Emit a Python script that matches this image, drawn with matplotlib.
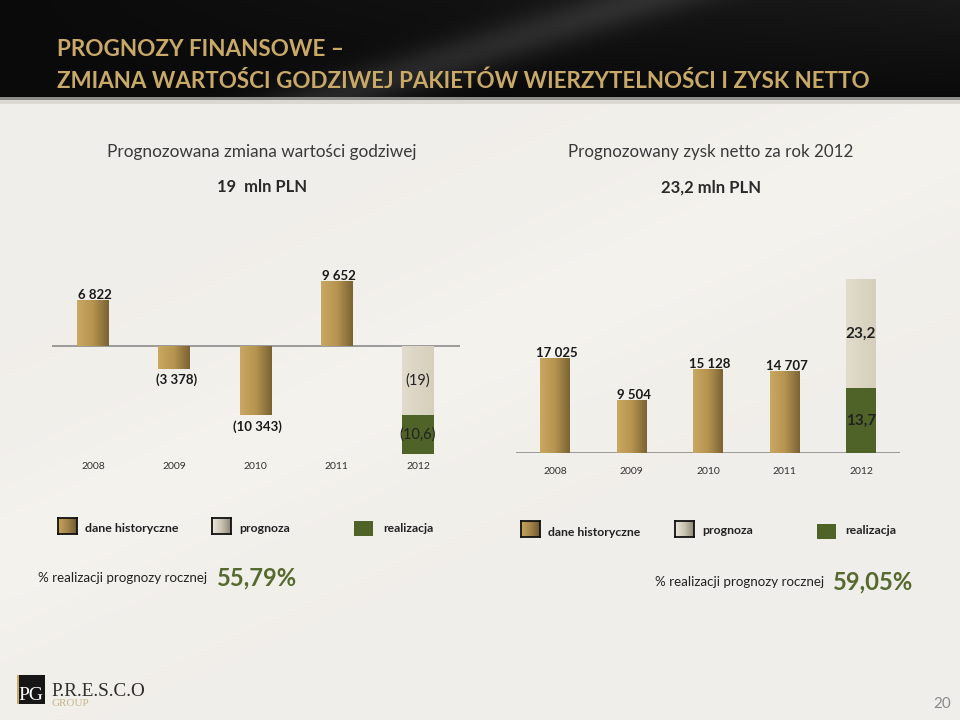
import numpy as np
import matplotlib
matplotlib.use('Agg')
import matplotlib.pyplot as plt
from matplotlib.colors import LinearSegmentedColormap
from matplotlib.patches import Rectangle

plt.rcParams['font.family'] = ['Lato', 'DejaVu Sans']

# dane
lata = ['2008', '2009', '2010', '2011', '2012']
zmiana_hist = [6822, -3378, -10343, 9652]      # tys. PLN
zmiana_prognoza = -19.0                        # mln PLN
zmiana_realizacja = -10.6
zysk_hist = [17025, 9504, 15128, 14707]        # tys. PLN
zysk_prognoza = 23.2                           # mln PLN
zysk_realizacja = 13.7
legenda = ['dane historyczne', 'prognoza', 'realizacja']


def tys(v):
    s = f"{abs(v):,}".replace(',', ' ')
    return f"({s})" if v < 0 else s


def mln(v):
    s = f"{abs(v):.1f}".replace('.', ',')
    if s.endswith(',0'):
        s = s[:-2]
    return f"({s})" if v < 0 else s


def proc(a, b):
    return f"{a / b * 100:.2f}%".replace('.', ',')


W, H = 960, 720
fig = plt.figure(figsize=(9.6, 7.2), dpi=100)
fig.patch.set_facecolor('#F1EFEA')
renderer = fig.canvas.get_renderer()


def ax_px(x0, y0, x1, y1):
    return fig.add_axes([x0 / W, 1 - y1 / H, (x1 - x0) / W, (y1 - y0) / H])


def tekst(x, y, s, width=None, size=10, **kw):
    kw.setdefault('va', 'center_baseline')
    t = fig.text(x / W, 1 - y / H, s, fontsize=size, **kw)
    if width:
        bb = t.get_window_extent(renderer)
        t.set_fontsize(size * width / bb.width)
    return t


# tlo slajdu
bg = ax_px(0, 0, W, H)
yy, xx = np.mgrid[0:H, 0:W].astype(float)
img = np.ones((H, W, 3)) * np.array([0.945, 0.937, 0.918])
band = np.exp(-((yy + 0.45 * xx - 560) / 90) ** 2)
img += 0.015 * band[..., None]
head = yy < 97
hv = 0.04 + 0.11 * np.exp(-((xx + 3.2 * yy - 640) / 70) ** 2) + 0.06 * (xx / W) * (1 - yy / 97)
img[head] = np.repeat(hv[head][:, None], 3, axis=1)
img[(yy >= 97) & (yy < 100)] = [0.55, 0.55, 0.53]
img[(yy >= 100) & (yy < 104)] = [0.86, 0.85, 0.82]
bg.imshow(np.clip(img, 0, 1), aspect='auto', extent=[0, W, H, 0])
bg.axis('off')

zloto = '#C8A968'
tekst(57, 47, 'PROGNOZY FINANSOWE –', width=288, size=18, color=zloto, weight='bold')
tekst(57, 79, 'ZMIANA WARTOŚCI GODZIWEJ PAKIETÓW WIERZYTELNOŚCI I ZYSK NETTO',
      width=813, size=18, color=zloto, weight='bold')

# podtytuly
tekst(262, 151, 'Prognozowana zmiana wartości godziwej', width=309, size=12,
      color='#3A3A3A', ha='center')
tekst(262, 185, f'{abs(zmiana_prognoza):.0f}  mln PLN', width=90, size=12,
      color='#2A2A2A', ha='center', weight='bold')
tekst(711, 151, 'Prognozowany zysk netto za rok 2012', width=282, size=12,
      color='#3A3A3A', ha='center')
tekst(711, 186, f'{mln(zysk_prognoza)} mln PLN', width=100, size=12,
      color='#2A2A2A', ha='center', weight='bold')

gold_cm = LinearSegmentedColormap.from_list('g', ['#C9A862', '#B69450', '#7A6334'])
beige_cm = LinearSegmentedColormap.from_list('b', ['#E1DCCC', '#D5CFBB'])
green = '#4F6228'
szer = 0.39


def gradient(ax, bars, cmap):
    grad = np.linspace(0, 1, 64).reshape(1, -1)
    for b in bars:
        x0, y0, w, h = b.get_x(), b.get_y(), b.get_width(), b.get_height()
        im = ax.imshow(grad, extent=[x0, x0 + w, y0, y0 + h], aspect='auto',
                       cmap=cmap, zorder=3)
        im.set_clip_path(b)


def os_styl(ax, pad):
    for s in ax.spines.values():
        s.set_visible(False)
    ax.set_facecolor('none')
    ax.set_yticks([])
    ax.set_xticks(range(len(lata)))
    ax.set_xticklabels(lata)
    ax.tick_params(axis='x', length=0, labelsize=7.5, labelcolor='#333333', pad=pad)
    ax.axhline(0, color='#8C8C8C', lw=1.2, zorder=2)


# wykres lewy - zmiana wartosci godziwej
axL = ax_px(52, 260, 460, 456)
x = np.arange(len(lata))
bL = axL.bar(x[:4], zmiana_hist, width=szer, color='none', zorder=3)
gradient(axL, bL, gold_cm)
os_styl(axL, 4.5)
kL = 6.7 / 1000
for xi, v in zip(x[:4], zmiana_hist):
    axL.annotate(tys(v), (xi, v), xytext=(2, 5 if v > 0 else -11),
                 textcoords='offset pixels', ha='center', va='center',
                 fontsize=9.5, weight='bold', color='#1A1A1A')

axL2 = axL.twinx()
kL2 = 108 / 29.6
bP = axL2.bar(x[4], zmiana_prognoza, width=szer, color='none', zorder=3)
gradient(axL2, bP, beige_cm)
axL2.bar(x[4], zmiana_realizacja, width=szer, bottom=zmiana_prognoza, color=green, zorder=3)
axL2.axis('off')
axL2.text(x[4], zmiana_prognoza / 2, mln(zmiana_prognoza), ha='center', va='center',
          fontsize=10.5, color='#222222', zorder=5)
axL2.text(x[4], zmiana_prognoza + zmiana_realizacja / 2, mln(zmiana_realizacja),
          ha='center', va='center', fontsize=10.5, color='#222222', zorder=5)

# wykres prawy - zysk netto
axR = ax_px(516, 260, 900, 453)
bR = axR.bar(x[:4], zysk_hist, width=szer, color='none', zorder=3)
gradient(axR, bR, gold_cm)
os_styl(axR, 10)
kR = 95 / 17025
for xi, v in zip(x[:4], zysk_hist):
    axR.annotate(tys(v), (xi, v), xytext=(2, 5), textcoords='offset pixels',
                 ha='center', va='center', fontsize=9.5, weight='bold', color='#1A1A1A')

axR2 = axR.twinx()
kR2 = 174 / 36.9
axR2.bar(x[4], zysk_realizacja, width=szer, color=green, zorder=3)
bP2 = axR2.bar(x[4], zysk_prognoza, width=szer, bottom=zysk_realizacja, color='none', zorder=3)
gradient(axR2, bP2, beige_cm)
axR2.axis('off')
axR2.text(x[4], zysk_realizacja + zysk_prognoza / 2, mln(zysk_prognoza), ha='center',
          va='center', fontsize=11, weight='bold', color='#222222', zorder=5)
axR2.text(x[4], zysk_realizacja / 2, mln(zysk_realizacja), ha='center', va='center',
          fontsize=11, weight='bold', color='#222222', zorder=5)

# skale osi (po imshow)
axL.set_xlim(-0.505, 4.517)
axL.set_ylim(-(456 - 346) / kL, (346 - 260) / kL)
axL2.set_ylim(-(456 - 346) / kL2, (346 - 260) / kL2)
axR.set_xlim(-0.51, 4.51)
axR.set_ylim(0, 193 / kR)
axR2.set_ylim(0, 193 / kR2)


# legendy
def swatch(x0, y0, x1, y1, kolor, ramka=True):
    a = ax_px(x0, y0, x1, y1)
    if isinstance(kolor, str):
        a.set_facecolor(kolor)
    else:
        a.imshow(np.linspace(0, 1, 32).reshape(1, -1), cmap=kolor, aspect='auto')
    a.set_xticks([])
    a.set_yticks([])
    for s in a.spines.values():
        s.set_visible(ramka)
        s.set_linewidth(1.3)
        s.set_color('#111111')


sw_gold = LinearSegmentedColormap.from_list('sg', ['#C6A35C', '#A4844A', '#6E5A30'])
sw_beige = LinearSegmentedColormap.from_list('sb', ['#EAE6DA', '#C9C3B2', '#8E8878'])

for dx, dy in [(0, 0), (463, 3)]:
    swatch(58 + dx, 518 + dy, 77 + dx, 534 + dy, sw_gold)
    swatch(212 + dx, 518 + dy, 231 + dx, 534 + dy, sw_beige)
    swatch(354 + dx, 521 + dy, 373 + dx, 536 + dy, green, ramka=False)

tekst(85, 528, legenda[0], width=94, size=9, weight='bold', color='#222222')
tekst(239, 527, legenda[1], width=51, size=9, weight='bold', color='#222222')
tekst(383, 527, legenda[2], width=50, size=9, weight='bold', color='#222222')
tekst(548, 531, legenda[0], width=93, size=9, weight='bold', color='#222222')
tekst(702, 530, legenda[1], width=51, size=9, weight='bold', color='#222222')
tekst(845, 530, legenda[2], width=51, size=9, weight='bold', color='#222222')

zielony = '#566A2E'
tekst(38, 577, '% realizacji prognozy rocznej', width=169, size=10, color='#222222')
tekst(217, 576, proc(zmiana_realizacja, zmiana_prognoza), width=80, size=16,
      weight='bold', color=zielony)
tekst(655, 581, '% realizacji prognozy rocznej', width=169, size=10, color='#222222')
tekst(833, 580, proc(zysk_realizacja, zysk_prognoza), width=80, size=16,
      weight='bold', color=zielony)

# logo i numer strony
fig.add_artist(Rectangle((17 / W, 1 - 704 / H), 28 / W, 29 / H, transform=fig.transFigure,
                         facecolor='#161616', edgecolor='none'))
fig.add_artist(Rectangle((17 / W, 1 - 704 / H), 2 / W, 29 / H, transform=fig.transFigure,
                         facecolor=zloto, edgecolor='none'))
tekst(31, 694, 'PG', size=14, ha='center', color='white', family='Liberation Serif')
tekst(51, 690, 'P.R.E.S.C.O', width=94, size=14, color='#2E2E2E', family='Liberation Serif')
tekst(52, 703, 'GROUP', width=38, size=8, color='#C9B68C', family='Liberation Serif')
tekst(942, 702, '20', size=11, ha='center', color='#8A8A8A')

fig.savefig('out.png', dpi=100, facecolor=fig.get_facecolor())
